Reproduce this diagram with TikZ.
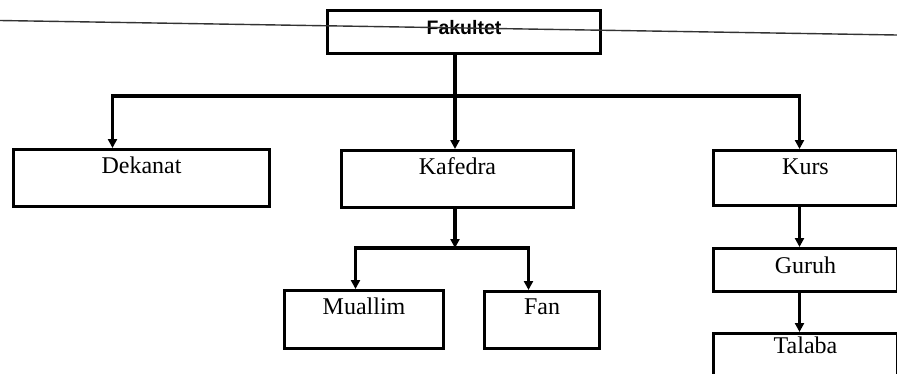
\documentclass[tikz,border=0pt]{standalone}
\usepackage{fontspec}
\setmainfont{Liberation Serif}
\newfontfamily\headfont{Liberation Sans}
\usetikzlibrary{arrows.meta}

\tikzset{
  unitbox/.style={draw, line width=3pt, rectangle, anchor=north west,
    inner xsep=0pt, inner ysep=0pt, font=\fontsize{24}{26}\selectfont},
  headbox/.style={unitbox, font=\headfont\bfseries\fontsize{19.5}{21}\selectfont},
  link/.style={line width=3.6pt},
  arrowlink/.style={link, -{Triangle[length=9pt,width=9pt]}},
}

\begin{document}
\begin{tikzpicture}[x=1pt,y=-1pt]
  \useasboundingbox (0,0) rectangle (897,373);
  \clip (0,0) rectangle (897,373);

  % units
  \node[headbox, minimum width=273pt, text height=24pt, text depth=19pt] (fak) at (326,9) {Fakultet};
  \node[unitbox, minimum width=256pt, text height=24pt, text depth=33pt] (dek) at (12,148) {Dekanat};
  \node[unitbox, minimum width=232pt, text height=24pt, text depth=33pt] (kaf) at (340,149) {Kafedra};
  \node[unitbox, minimum width=184pt, text height=24pt, text depth=31pt] (kurs) at (712,149) {Kurs};
  \node[unitbox, minimum width=159pt, text height=24pt, text depth=34pt] (mua) at (283,289) {Muallim};
  \node[unitbox, minimum width=115pt, text height=23pt, text depth=34pt] (fan) at (483,290) {Fan};
  \node[unitbox, minimum width=184pt, text height=25pt, text depth=18pt] (gur) at (712,247) {Guruh};
  \node[unitbox, minimum width=184pt, text height=20pt, text depth=48pt] (tal) at (712,332) {Talaba};

  % faculty level
  \coordinate (j1) at (455,96);
  \draw[link] (fak.south -| j1) -- (j1);
  \draw[arrowlink] (j1) -| ([xshift=-29pt]dek.north);
  \draw[arrowlink] (j1) -- (kaf.north -| j1);
  \draw[arrowlink] (j1) -| ([xshift=-6pt]kurs.north);

  % department level
  \coordinate (j2) at (455,248);
  \draw[arrowlink] (kaf.south -| j2) -- (j2);
  \draw[arrowlink] (j2) -| ([xshift=-8.5pt]mua.north);
  \draw[arrowlink] (j2) -| ([xshift=-13.5pt]fan.north);

  % course level
  \draw[arrowlink] ([xshift=-6pt]kurs.south) -- ([xshift=-6pt]gur.north);
  \draw[arrowlink] ([xshift=-6pt]gur.south) -- ([xshift=-6pt]tal.north);

  % thin line across the top
  \draw[line width=1.4pt, black!80] (0,20.5) -- (897,35);
\end{tikzpicture}
\end{document}
